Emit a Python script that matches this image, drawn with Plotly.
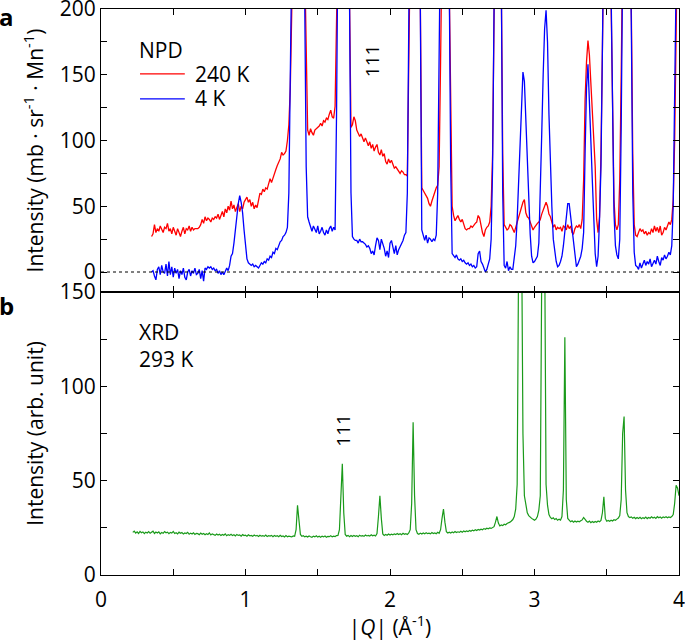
import numpy as np
import plotly.graph_objects as go

# ---------------- data ----------------
# NPD (neutron powder diffraction), |Q| grid in 1/Angstrom
npd_q_start, npd_q_stop, npd_q_step = 0.35, 4.00, 0.01
npd_q = np.round(np.arange(npd_q_start, npd_q_stop + 1e-9, npd_q_step), 2)

npd_240k = [
    27, 29, 36, 30, 33, 31, 35, 32, 30, 34,
    33, 37, 31, 33, 29, 34, 31, 28, 33, 30,
    27, 31, 34, 29, 33, 32, 35, 31, 34, 32,
    33, 33, 33, 34, 36, 40, 37, 42, 39, 41,
    40, 38, 41, 40, 42, 41, 44, 40, 43, 46,
    42, 48, 45, 50, 47, 54, 48, 51, 46, 49,
    52, 46, 50, 48, 53, 55, 57, 53, 55, 50,
    53, 48, 51, 49, 56, 60, 59, 63, 61, 64,
    63, 67, 71, 68, 72, 76, 78, 81, 83, 86,
    91, 89, 90, 92, 100, 112, 140, 185, 260, 380,
    420, 430, 420, 400, 360, 300, 230, 175, 108, 104,
    109, 106, 104, 108, 109, 110, 111, 113, 111, 115,
    114, 117, 116, 120, 123, 118, 117, 126, 200, 280,
    360, 420, 450, 440, 380, 320, 260, 205, 110, 112,
    118, 115, 108, 106, 103, 105, 101, 99, 102, 98,
    96, 99, 94, 97, 92, 95, 97, 91, 89, 93,
    88, 90, 84, 82, 86, 83, 85, 82, 79, 80,
    78, 76, 75, 77, 76, 74, 74, 73, 160, 250,
    360, 420, 430, 420, 330, 240, 205, 64, 62, 60,
    59, 56, 52, 50, 54, 58, 62, 64, 66, 80,
    160, 270, 400, 430, 400, 300, 210, 110, 50, 43,
    39, 41, 43, 40, 38, 40, 36, 33, 32, 33,
    33, 35, 34, 36, 37, 38, 43, 41, 35, 30,
    27, 32, 34, 35, 38, 50, 90, 190, 300, 400,
    420, 380, 220, 90, 36, 34, 32, 33, 36, 35,
    33, 30, 34, 38, 42, 44, 48, 53, 55, 45,
    42, 41, 38, 34, 32, 34, 36, 37, 38, 40,
    44, 47, 50, 53, 50, 44, 42, 38, 34, 36,
    32, 34, 33, 34, 31, 35, 34, 32, 36, 33,
    35, 30, 29, 33, 35, 34, 36, 33, 40, 70,
    131, 160, 176, 165, 145, 120, 100, 80, 40, 30,
    42, 90, 170, 260, 400, 430, 380, 280, 200, 110,
    55, 36, 32, 36, 70, 150, 240, 380, 440, 420,
    340, 260, 200, 90, 36, 28, 27, 30, 33, 31,
    32, 29, 31, 28, 30, 29, 33, 30, 35, 31,
    34, 30, 35, 28, 30, 34, 32, 35, 38, 36,
    40, 55, 100, 180, 260, 350,
]

npd_4k = [
    0, 1, -3, -6, 2, 4, -2, 5, 0, -1,
    6, -3, 8, -2, 4, -4, 3, -1, 2, -5,
    1, -2, 3, -4, -6, 0, 2, -3, 1, -1,
    3, -2, -1, 2, -5, 1, -7, 3, 2, 4,
    3, 4, 2, 3, 1, 2, -1, 1, -2, 0,
    -2, 1, 3, 1, 5, 12, 14, 22, 30, 42,
    52, 58, 53, 45, 32, 20, 10, 7, 6, 5,
    6, 4, 5, 4, 3, 5, 7, 6, 8, 7,
    10, 9, 12, 11, 15, 14, 18, 17, 21, 23,
    24, 27, 28, 30, 34, 60, 150, 260, 400, 480,
    500, 490, 450, 400, 330, 260, 205, 80, 42, 38,
    34, 31, 35, 32, 30, 35, 29, 31, 34, 30,
    28, 32, 29, 33, 35, 31, 34, 32, 120, 260,
    400, 480, 500, 470, 400, 320, 250, 205, 60, 27,
    25, 24, 24, 22, 25, 23, 23, 22, 21, 19,
    20, 18, 14, 16, 13, 20, 26, 24, 17, 25,
    22, 18, 12, 16, 11, 22, 24, 18, 14, 20,
    13, 17, 19, 22, 24, 28, 30, 60, 220, 320,
    400, 480, 500, 470, 380, 280, 200, 32, 27, 24,
    28, 22, 26, 25, 23, 25, 24, 28, 60, 160,
    260, 380, 480, 500, 460, 350, 220, 80, 14, 12,
    11, 13, 10, 9, 10, 8, 9, 7, 6, 7,
    5, 6, 4, 5, 3, 4, 14, 16, 8, 6,
    3, 0, 2, 7, 10, 25, 80, 200, 350, 450,
    480, 420, 230, 60, 5, 3, 8, 1, 4, 2,
    2, 10, 20, 40, 70, 95, 130, 152, 145, 115,
    80, 50, 29, 12, 7, 8, 10, 12, 22, 55,
    105, 150, 185, 199, 175, 120, 80, 50, 25, 14,
    8, 4, 5, 8, 12, 20, 30, 42, 52, 52,
    42, 30, 22, 10, 4, 6, 9, 12, 18, 30,
    90, 140, 158, 135, 100, 70, 38, 14, 4, 12,
    40, 80, 170, 260, 400, 480, 420, 300, 200, 100,
    45, 20, 13, 10, 25, 110, 250, 400, 480, 460,
    380, 260, 190, 60, 15, 5, 4, 2, 7, 3,
    6, 9, 5, 8, 6, 10, 4, 7, 9, 6,
    12, 8, 5, 11, 9, 13, 10, 12, 15, 13,
    20, 50, 120, 220, 350, 450,
]

# XRD (x-ray diffraction) at 293 K
xrd_q_start, xrd_q_stop, xrd_q_step = 0.22, 4.00, 0.01
xrd_q = np.round(np.arange(xrd_q_start, xrd_q_stop + 1e-9, xrd_q_step), 2)

xrd_293k = [
    22.6, 23.3, 22.2, 22.9, 22.0, 23.1, 22.4, 22.8, 21.9, 22.7,
    22.3, 23.0, 22.1, 22.6, 23.2, 22.0, 22.8, 22.3, 22.9, 21.8,
    22.5, 22.1, 23.0, 22.4, 22.7, 21.9, 22.6, 22.2, 23.1, 22.0,
    22.4, 21.8, 22.7, 22.1, 22.5, 21.7, 22.3, 22.0, 22.6, 21.6,
    22.2, 21.7, 22.4, 21.5, 22.1, 21.9, 21.4, 22.2, 21.6, 22.0,
    21.3, 21.9, 21.5, 22.3, 21.2, 21.8, 21.4, 21.0, 21.7, 21.2,
    21.6, 20.9, 21.5, 21.1, 21.8, 20.8, 21.4, 21.0, 21.6, 20.9,
    21.3, 20.7, 21.5, 21.0, 21.2, 20.6, 21.4, 20.9, 21.1, 20.6,
    21.3, 20.8, 21.0, 20.5, 21.2, 20.7, 21.0, 20.4, 21.1, 20.6,
    20.9, 20.5, 21.2, 20.4, 20.8, 20.6, 21.0, 20.3, 20.9, 20.5,
    20.8, 20.3, 21.0, 20.4, 20.7, 20.2, 20.9, 20.3, 20.6, 20.4,
    20.2, 20.7, 20.5, 24.0, 37.0, 29.0, 21.5, 20.5, 20.8, 20.2,
    20.6, 20.1, 20.7, 20.3, 20.0, 20.6, 20.2, 20.8, 20.1, 20.5,
    20.0, 20.6, 20.2, 20.7, 20.0, 20.5, 20.3, 20.8, 20.2, 20.6,
    20.4, 20.9, 21.0, 24.0, 40.0, 59.0, 33.0, 21.5, 20.6, 21.0,
    20.3, 20.9, 20.4, 21.0, 20.5, 20.8, 20.3, 21.1, 20.6, 20.9,
    20.5, 21.2, 20.7, 21.0, 20.6, 21.3, 20.8, 21.1, 20.7, 22.0,
    31.0, 42.0, 30.0, 21.8, 21.0, 21.5, 21.1, 21.7, 21.2, 21.6,
    21.3, 21.8, 21.4, 22.0, 21.5, 21.9, 21.4, 22.1, 21.6, 21.9,
    21.5, 22.3, 24.0, 38.0, 81.0, 42.0, 24.0, 22.0, 21.6, 22.2,
    21.7, 22.3, 21.8, 22.4, 21.9, 22.2, 21.8, 22.5, 22.0, 22.3,
    21.9, 22.6, 22.1, 24.0, 30.0, 35.0, 28.0, 23.0, 22.3, 22.7,
    22.2, 22.8, 22.4, 23.0, 22.5, 22.9, 22.6, 23.2, 22.7, 23.3,
    22.9, 23.4, 23.0, 23.6, 23.2, 23.8, 23.4, 24.0, 23.6, 24.1,
    23.8, 24.3, 24.0, 24.6, 24.2, 24.8, 24.5, 25.0, 24.7, 25.3,
    25.6, 28.0, 31.0, 27.5, 26.0, 26.5, 26.2, 26.9, 26.6, 27.3,
    27.5, 28.0, 28.6, 29.4, 31.0, 35.0, 48.0, 160.0, 290.0, 190.0,
    75.0, 42.0, 36.0, 33.0, 31.5, 30.5, 30.0, 29.5, 29.0, 29.6,
    31.0, 34.4, 42.0, 160.0, 300.0, 180.0, 48.0, 37.0, 32.0, 30.5,
    29.8, 30.3, 29.4, 29.9, 29.0, 29.6, 29.1, 31.0, 45.0, 126.0,
    40.0, 30.0, 28.8, 28.2, 28.7, 28.0, 28.6, 28.1, 28.5, 28.2,
    28.7, 29.2, 30.5, 29.3, 28.5, 28.0, 28.6, 27.7, 28.3, 27.8,
    28.4, 28.0, 28.6, 28.2, 28.9, 33.0, 41.5, 30.0, 28.5, 28.9,
    28.5, 29.0, 28.6, 29.3, 29.0, 29.6, 30.2, 31.5, 40.0, 75.0,
    84.0, 45.0, 33.0, 31.0, 30.4, 30.8, 30.1, 30.6, 29.9, 30.5,
    30.0, 30.6, 29.8, 30.4, 30.0, 30.7, 29.9, 30.5, 30.1, 30.8,
    30.2, 30.6, 30.0, 30.9, 30.3, 30.7, 30.1, 30.8, 30.4, 30.9,
    30.3, 30.8, 30.5, 31.0, 32.0, 38.0, 47.6, 46.0, 42.0,
]

assert len(npd_q) == len(npd_240k) == len(npd_4k), (len(npd_q), len(npd_240k), len(npd_4k))
assert len(xrd_q) == len(xrd_293k), (len(xrd_q), len(xrd_293k))

x_ticks = [0, 1, 2, 3, 4]

# ---------------- figure ----------------
FONT = "Open Sans"
BLACK = "black"
RED = "#ff0000"
BLUE = "#0000ff"
GREEN = "#1a9a1a"

fig = go.Figure()
fig.add_trace(go.Scatter(x=npd_q, y=npd_240k, mode="lines", name="240 K",
                         line=dict(color=RED, width=1.3),
                         xaxis="x2", yaxis="y2", showlegend=False))
fig.add_trace(go.Scatter(x=npd_q, y=npd_4k, mode="lines", name="4 K",
                         line=dict(color=BLUE, width=1.3),
                         xaxis="x2", yaxis="y2", showlegend=False))
fig.add_trace(go.Scatter(x=xrd_q, y=xrd_293k, mode="lines", name="XRD 293 K",
                         line=dict(color=GREEN, width=1.2),
                         xaxis="x", yaxis="y", showlegend=False))

common = dict(showline=True, linecolor=BLACK, linewidth=1, mirror="ticks",
              ticks="inside", ticklen=6, tickwidth=1, tickcolor=BLACK,
              showgrid=False, zeroline=False, automargin=False,
              ticklabeloverflow="allow",
              tickfont=dict(family=FONT, size=21, color=BLACK))
minor_x = dict(dtick=0.5, tick0=0, ticks="inside", ticklen=6, tickwidth=1,
               tickcolor=BLACK, showgrid=False)
minor_y = dict(dtick=25, tick0=0, ticks="inside", ticklen=6, tickwidth=1,
               tickcolor=BLACK, showgrid=False)
title_font = dict(family=FONT, size=21, color=BLACK)

fig.update_layout(
    width=685, height=641,
    margin=dict(l=101, r=6, t=9, b=66, autoexpand=False),
    paper_bgcolor="white", plot_bgcolor="white",
    font=dict(family=FONT, size=21, color=BLACK),
    xaxis=dict(**common, range=[0, 4], tickvals=x_ticks, minor=minor_x,
               anchor="y", domain=[0, 1], ticklabelstandoff=6,
               title=dict(text="|<i>Q</i>| (Å<sup>-1</sup>)", font=title_font, standoff=0)),
    yaxis=dict(**common, range=[0, 150], dtick=50, tick0=0, minor=minor_y,
               anchor="x", domain=[0, 0.5],
               title=dict(text="Intensity (arb. unit)", font=title_font, standoff=10)),
    xaxis2=dict(**common, range=[0, 4], tickvals=x_ticks, minor=minor_x,
                matches="x", anchor="y2", showticklabels=False),
    yaxis2=dict(**common, range=[-15.2, 200], dtick=50, tick0=0, minor=minor_y,
                anchor="x2", domain=[0.5, 1],
                title=dict(text="Intensity (mb · sr<sup>-1</sup> · Mn<sup>-1</sup>)",
                           font=title_font, standoff=10)),
)

# zero line in the NPD panel
fig.add_shape(type="line", xref="x2 domain", yref="y2", x0=0, x1=1, y0=0, y1=0,
              line=dict(color=BLACK, width=1, dash="3px,3px"))

# legend of panel a (drawn by hand)
fig.add_shape(type="line", xref="x2", yref="y2", x0=0.27, x1=0.58, y0=150.6, y1=150.6,
              line=dict(color=RED, width=1.3))
fig.add_shape(type="line", xref="x2", yref="y2", x0=0.27, x1=0.58, y0=131.6, y1=131.6,
              line=dict(color=BLUE, width=1.3))

ann = []
def text(x, y, s, xref, yref, size=21, xanchor="left", angle=0):
    ann.append(dict(x=x, y=y, xref=xref, yref=yref, text=s, showarrow=False,
                    xanchor=xanchor, yanchor="middle", textangle=angle, align="left",
                    font=dict(family=FONT, size=size, color=BLACK)))

text(0.25, 169, "NPD", "x2", "y2")
text(0.637, 150.6, "240 K", "x2", "y2")
text(0.637, 132.3, "4 K", "x2", "y2")
text(1.875, 161, "111", "x2", "y2", size=19, xanchor="center", angle=-90)
text(0.249, 121.8, "XRD<br>293 K", "x", "y")
text(1.675, 76.5, "111", "x", "y", size=19, xanchor="center", angle=-90)
text(-0.164, 0.986, "<b>a</b>", "paper", "paper", size=24, xanchor="center")
text(-0.164, 0.477, "<b>b</b>", "paper", "paper", size=24, xanchor="center")
fig.update_layout(annotations=ann)

# the page is photographed in a 685x641 window: drop the browser's default body margin
fig.write_html("out.html", config={"displayModeBar": False},
               post_script="document.body.style.margin='0px';")
